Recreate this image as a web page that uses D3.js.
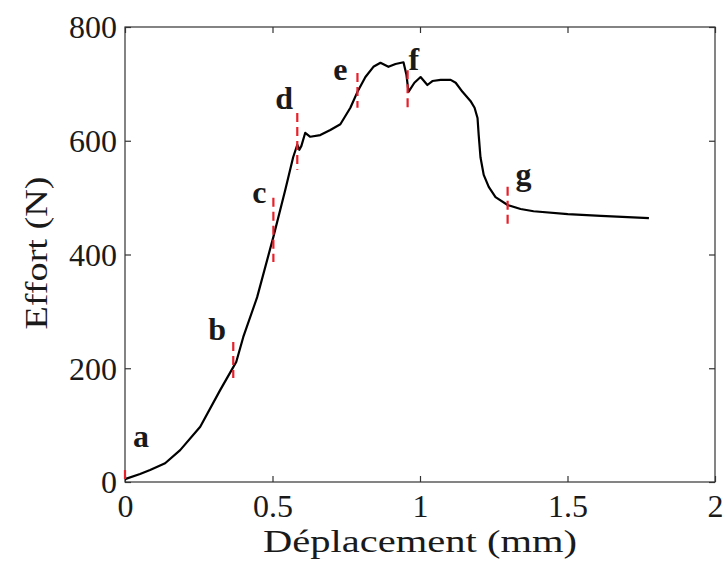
<!DOCTYPE html>
<html>
<head>
<meta charset="utf-8">
<script src="https://cdn.jsdelivr.net/npm/d3@7"></script>
<style>
  html, body { margin: 0; padding: 0; background: #fff; }
  svg { display: block; }
  text { font-family: "Liberation Serif", "Times New Roman", serif; }
</style>
</head>
<body>
<svg id="chart" width="724" height="567"></svg>
<script>
// ---- Data ----
const displacement = [0.000, 0.051, 0.085, 0.136, 0.187, 0.255, 0.323, 0.367, 0.377, 0.401,
  0.448, 0.503, 0.543, 0.570, 0.584, 0.591, 0.598, 0.611, 0.628, 0.662,
  0.696, 0.730, 0.764, 0.788, 0.815, 0.842, 0.866, 0.893, 0.917, 0.944,
  0.954, 0.961, 0.981, 1.002, 1.025, 1.042, 1.070, 1.104, 1.121, 1.144,
  1.171, 1.185, 1.195, 1.199, 1.205, 1.216, 1.233, 1.256, 1.297, 1.341,
  1.385, 1.501, 1.613, 1.776];
const effort = [5, 14, 21, 33, 56, 97, 162, 202, 211, 255,
  325, 431, 513, 571, 593, 584, 591, 614, 607, 610,
  619, 629, 658, 686, 712, 730, 737, 730, 735, 738,
  716, 686, 702, 712, 698, 705, 707, 707, 702, 686,
  670, 658, 640, 610, 571, 540, 519, 501, 487, 480,
  476, 471, 468, 464];

const markerLabels = ["a", "b", "c", "d", "e", "f", "g"];
const markerX      = [0.000, 0.367, 0.503, 0.584, 0.788, 0.958, 1.297];
const markerLow    = [2, 183, 387, 549, 658, 651, 448];
const markerHigh   = [21, 246, 500, 649, 719, 724, 519];
const labelX       = [0.027, 0.282, 0.431, 0.509, 0.706, 0.961, 1.324];
const labelY       = [62, 250, 490, 656, 707, 724, 522];

const xTicks = [0, 0.5, 1, 1.5, 2];
const yTicks = [0, 200, 400, 600, 800];

// ---- Layout ----
const svg = d3.select("#chart");
const L = 125, R = 715, T = 27, B = 482;
const x = d3.scaleLinear().domain([0, 2]).range([L, R]);
const y = d3.scaleLinear().domain([0, 800]).range([B, T]);

const axisColor = "#333";
const textColor = "#1a1a1a";

// Box
svg.append("rect")
  .attr("x", L).attr("y", T).attr("width", R - L).attr("height", B - T)
  .attr("fill", "none").attr("stroke", axisColor).attr("stroke-width", 1.2);

// Axes (ticks inward)
const fmtX = d => String(d);
const gx = svg.append("g").attr("transform", `translate(0,${B})`)
  .call(d3.axisBottom(x).tickValues(xTicks).tickSizeInner(-6).tickSizeOuter(0).tickPadding(12).tickFormat(fmtX));
const gxTop = svg.append("g").attr("transform", `translate(0,${T})`)
  .call(d3.axisTop(x).tickValues(xTicks).tickSizeInner(-6).tickSizeOuter(0).tickFormat(""));
const gy = svg.append("g").attr("transform", `translate(${L},0)`)
  .call(d3.axisLeft(y).tickValues(yTicks).tickSizeInner(-6).tickSizeOuter(0).tickPadding(8).tickFormat(d3.format("d")));
const gyRight = svg.append("g").attr("transform", `translate(${R},0)`)
  .call(d3.axisRight(y).tickValues(yTicks).tickSizeInner(-6).tickSizeOuter(0).tickFormat(""));

[gx, gxTop, gy, gyRight].forEach(g => {
  g.select(".domain").remove();
  g.selectAll(".tick line").attr("stroke", axisColor).attr("stroke-width", 1.2);
  g.selectAll(".tick text").attr("fill", textColor)
    .style("font-family", '"Liberation Serif", "Times New Roman", serif')
    .style("font-size", "32px");
});
gx.selectAll(".tick text").attr("dy", "0.72em");
gy.selectAll(".tick text").attr("dy", "0.34em");

// Axis titles
svg.append("text")
  .attr("x", 420).attr("y", 552)
  .attr("text-anchor", "middle")
  .attr("textLength", 314).attr("lengthAdjust", "spacingAndGlyphs")
  .style("font-size", "31px").attr("fill", textColor)
  .text("Déplacement (mm)");
svg.append("text")
  .attr("transform", "translate(47,253) rotate(-90)")
  .attr("text-anchor", "middle")
  .attr("textLength", 153).attr("lengthAdjust", "spacingAndGlyphs")
  .style("font-size", "32px").attr("fill", textColor)
  .text("Effort (N)");

// Curve
const pts = displacement.map((d, i) => [d, effort[i]]);
svg.append("path")
  .datum(pts)
  .attr("fill", "none").attr("stroke", "#000").attr("stroke-width", 2.2)
  .attr("stroke-linejoin", "round")
  .attr("d", d3.line().x(d => x(d[0])).y(d => y(d[1])));

// Markers
svg.selectAll("line.marker").data(markerX).join("line")
  .attr("class", "marker")
  .attr("x1", d => x(d)).attr("x2", d => x(d))
  .attr("y1", (d, i) => y(markerHigh[i])).attr("y2", (d, i) => y(markerLow[i]))
  .attr("stroke", "#e8202a").attr("stroke-width", 2.2)
  .attr("stroke-dasharray", "9,5");

svg.selectAll("text.mlabel").data(markerLabels).join("text")
  .attr("class", "mlabel")
  .attr("x", (d, i) => x(labelX[i])).attr("y", (d, i) => y(labelY[i]))
  .style("font-size", "32px").style("font-weight", "bold").attr("fill", textColor)
  .text(d => d);
</script>
</body>
</html>
